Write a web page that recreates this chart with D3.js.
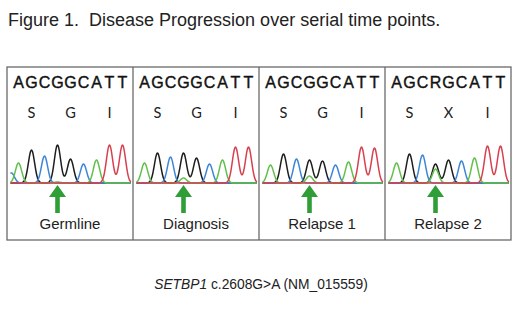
<!DOCTYPE html>
<html><head><meta charset="utf-8">
<script src="https://cdn.jsdelivr.net/npm/d3@7"></script>
<style>body{margin:0;background:#fff}svg{display:block}text{white-space:pre}</style>
</head><body><div id="chart"></div>
<script>
// ---------- data ----------
const title = "Figure 1.  Disease Progression over serial time points.";
const panels = ["Germline", "Diagnosis", "Relapse 1", "Relapse 2"];
const baseCalls = ["A","G","C","G","G","C","A","T","T"];          // reference bases (peak channel)
const sequences = ["AGCGGCATT","AGCGGCATT","AGCGGCATT","AGCRGCATT"]; // called sequence per panel
const aminoAcids = [["S","G","I"],["S","G","I"],["S","G","I"],["S","X","I"]];
const codonCentres = [1, 4, 7];
const mutationIndex = 3;
// primary peak height at each base position, per panel
const primaryHeights = [
  [20,33,27,38,24,19,23,38,38],
  [20,30,26,30,25,19,23,36,36],
  [18,29,24,23,22,18,21,36,35],
  [20,29,28,19,23,22,25,37,37]
];
// secondary "A" (green) peak under the mutated G position, per panel
const secondaryA = [1,5,7,14];
// partial leading peak (blue) at left edge, per panel
const leadingC = [10,0,0,0];
const footnoteGene = "SETBP1";
const footnoteRest = " c.2608G>A (NM_015559)";

// ---------- layout ----------
const W = 520, H = 318;
const svg = d3.select("#chart").append("svg").attr("width", W).attr("height", H);
const font = "'Liberation Sans', Arial, Helvetica, sans-serif";
const colors = {A:"#62c04a", C:"#3d86d6", G:"#1e1e1e", T:"#d8404f"};

svg.append("text").attr("x", 8).attr("y", 26)
  .attr("font-family", font).attr("font-size", 18).attr("fill", "#222").text(title);

const boxTop = 67, boxBottom = 240;
const panelX = d3.scaleBand().domain(panels).range([7, 511]).paddingInner(0);
const yPeak = d3.scaleLinear().domain([0, 40]).range([183, 143]);

svg.append("rect").attr("x", panelX.range()[0]).attr("y", boxTop)
  .attr("width", panelX.range()[1] - panelX.range()[0]).attr("height", boxBottom - boxTop)
  .attr("fill", "none").attr("stroke", "#6a6a6a").attr("stroke-width", 1.3);
panels.slice(1).forEach(p => {
  svg.append("line").attr("x1", panelX(p)).attr("x2", panelX(p))
    .attr("y1", boxTop).attr("y2", boxBottom).attr("stroke", "#6a6a6a").attr("stroke-width", 1.3);
});

const sigma = 0.24;
const gauss = d => Math.exp(-(d*d)/(2*sigma*sigma));

panels.forEach((p, pi) => {
  const left = panelX(p);
  const x = d3.scaleLinear().domain([0, 8]).range([left + 11.5, left + 115.5]);
  const g = svg.append("g");

  // sequence letters
  g.selectAll("text.seq").data(sequences[pi].split("")).join("text")
    .attr("x", (d, i) => x(i)).attr("y", 88).attr("text-anchor", "middle")
    .attr("font-family", font).attr("font-size", 16).attr("fill", "#111")
    .attr("stroke", "#111").attr("stroke-width", 0.4).text(d => d);

  // amino acids
  g.selectAll("text.aa").data(aminoAcids[pi]).join("text")
    .attr("x", (d, i) => x(codonCentres[i])).attr("y", 118).attr("text-anchor", "middle")
    .attr("font-family", "Lato, 'Open Sans', sans-serif").attr("font-size", 14.5).attr("fill", "#222").text(d => d);

  // peaks per channel
  const peaks = {A:[], C:[], G:[], T:[]};
  baseCalls.forEach((b, i) => peaks[b].push({pos: i, h: primaryHeights[pi][i]}));
  peaks.A.push({pos: mutationIndex, h: secondaryA[pi]});
  if (leadingC[pi] > 0) peaks.C.push({pos: -0.55, h: leadingC[pi]});

  const ts = d3.range(-0.62, 8.66, 0.03);
  const line = d3.line().x(d => x(d[0])).y(d => yPeak(d[1])).curve(d3.curveBasis);
  ["G","C","A","T"].forEach(ch => {
    const pts = ts.map(t => [t, d3.sum(peaks[ch], pk => pk.h * gauss(t - pk.pos))]);
    g.append("path").attr("d", line(pts)).attr("fill", "none")
      .attr("stroke", colors[ch]).attr("stroke-width", 1.5).attr("stroke-linejoin", "round");
  });

  // arrow
  const ax = x(mutationIndex);
  const arrow = d3.path();
  arrow.moveTo(ax, 185); arrow.lineTo(ax + 8.5, 197); arrow.lineTo(ax + 2.3, 197);
  arrow.lineTo(ax + 2.3, 213); arrow.lineTo(ax - 2.3, 213); arrow.lineTo(ax - 2.3, 197);
  arrow.lineTo(ax - 8.5, 197); arrow.closePath();
  g.append("path").attr("d", arrow.toString()).attr("fill", "#2f9e36");

  // label
  g.append("text").attr("x", left + panelX.bandwidth() / 2).attr("y", 229)
    .attr("text-anchor", "middle").attr("font-family", font).attr("font-size", 15)
    .attr("fill", "#222").text(p);
});

const foot = svg.append("text").attr("x", 261).attr("y", 289).attr("text-anchor", "middle")
  .attr("font-family", font).attr("font-size", 13.8).attr("fill", "#222");
foot.append("tspan").attr("font-style", "italic").text(footnoteGene);
foot.append("tspan").text(footnoteRest);
</script></body></html>
